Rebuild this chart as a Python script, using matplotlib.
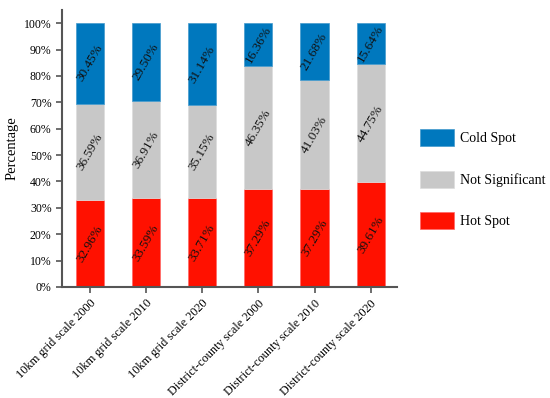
import matplotlib.pyplot as plt
import numpy as np

# data
categories = ["10km grid scale 2000", "10km grid scale 2010", "10km grid scale 2020",
              "District-county scale 2000", "District-county scale 2010", "District-county scale 2020"]
hot_spot = [32.96, 33.59, 33.71, 37.29, 37.29, 39.61]
not_significant = [36.59, 36.91, 35.15, 46.35, 41.03, 44.75]
cold_spot = [30.45, 29.50, 31.14, 16.36, 21.68, 15.64]

plt.rcParams['font.family'] = ['Liberation Serif', 'DejaVu Serif']

fig = plt.figure(figsize=(5.5, 3.98), dpi=100)
ax = fig.add_axes([0.1127, 0.2789, 0.6091, 0.696])

x = np.arange(len(categories))
w = 0.5
hot = np.array(hot_spot)
ns = np.array(not_significant)
cold = np.array(cold_spot)

ax.bar(x, hot, w, color='#FF1100', edgecolor='#FF6666', linewidth=0.5, label='Hot Spot')
ax.bar(x, ns, w, bottom=hot, color='#C8C8C8', edgecolor='#DDDDDD', linewidth=0.5, label='Not Significant')
ax.bar(x, cold, w, bottom=hot + ns, color='#0078BE', edgecolor='#4499CC', linewidth=0.5, label='Cold Spot')

# value labels in the middle of each segment
for i in range(len(x)):
    for bottom, val in [(0, hot[i]), (hot[i], ns[i]), (hot[i] + ns[i], cold[i])]:
        ax.text(x[i], bottom + val / 2, "%.2f%%" % val, rotation=60,
                ha='center', va='center', fontsize=9.5, color='#111111')

ax.set_xlim(-0.5, 5.47)
ax.set_ylim(0, 105)
ax.set_yticks(range(0, 101, 10))
ax.set_yticklabels(["%d%%" % v for v in range(0, 101, 10)], fontsize=8.5)
ax.set_xticks(x)
ax.set_xticklabels(categories, rotation=45, ha='right', rotation_mode='anchor', fontsize=8.8)
ax.set_ylabel("Percentage", fontsize=10.5)

for s in ['top', 'right']:
    ax.spines[s].set_visible(False)
for s in ['left', 'bottom']:
    ax.spines[s].set_color('#555555')
    ax.spines[s].set_linewidth(1.5)
ax.tick_params(axis='both', color='#555555', width=1.2, length=4)

handles, labels = ax.get_legend_handles_labels()
fig.legend(handles[::-1], labels[::-1], loc='center left', bbox_to_anchor=(0.74, 0.55),
           frameon=False, fontsize=10, handlelength=2.5, handleheight=1.5,
           labelspacing=1.75, handletextpad=0.4)

fig.savefig("out.png", dpi=100)
